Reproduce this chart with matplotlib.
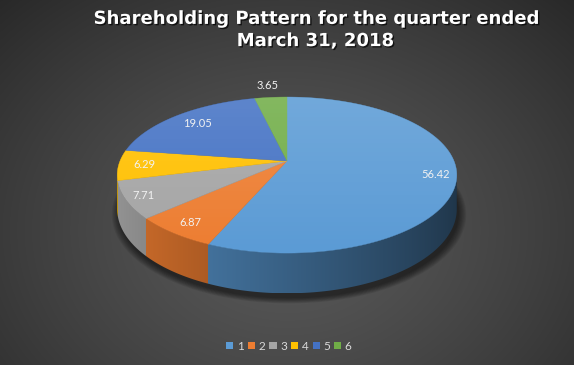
import numpy as np
import matplotlib.pyplot as plt
import matplotlib.patheffects as pe
from matplotlib.patches import Polygon, Patch
from matplotlib.colors import to_rgb

# données
labels = ['1', '2', '3', '4', '5', '6']
values = [56.42, 6.87, 7.71, 6.29, 19.05, 3.65]
colors = ['#5B9BD5', '#ED7D31', '#A5A5A5', '#FFC000', '#4472C4', '#70AD47']
title = 'Shareholding Pattern for the quarter ended\nMarch 31, 2018'

# géométrie du disque incliné (en pixels)
W, H = 574, 365
cx, cy = 287, 161
sx, sy = 167, 75.5
persp = 0.18
depth = 33
label_r = [0.88, 0.87, 0.9, 0.85, 0.8, 1.22]


def proj(theta, r=1.0):
    X = r * np.cos(theta)
    Z = -r * np.sin(theta)
    w = 1 - persp * Z
    return cx + sx * X / w, cy + sy * Z / w, w


fig = plt.figure(figsize=(W / 100, H / 100), dpi=100)
ax = fig.add_axes([0, 0, 1, 1])

# fond en dégradé radial
yy, xx = np.mgrid[0:H, 0:W]
d = np.sqrt(((xx - 287) / 330) ** 2 + ((yy - 230) / 260) ** 2) / 1.24
g = 0.35 - 0.19 * np.clip(d, 0, 1) ** 1.3
ax.imshow(np.dstack([g, g, g]), extent=(0, W, H, 0), zorder=0, aspect='auto')

# angles des parts (départ en haut, sens horaire)
total = sum(values)
bounds = np.radians(90 - np.concatenate([[0], np.cumsum(values)]) / total * 360)
cum = (np.pi / 2 - bounds[1:])


def slice_of(theta):
    rel = (np.pi / 2 - theta) % (2 * np.pi)
    return np.minimum(np.searchsorted(cum, rel), len(values) - 1)


# ombre sous le camembert
t = np.linspace(0, 2 * np.pi, 300)
for k in range(8):
    x, y, w = proj(t, 1.0 + 0.006 * k)
    ax.fill(x + 2, y + (depth + 4) / w, color='black', alpha=0.08, lw=0, zorder=1)

# paroi latérale : image colonne par colonne, découpée au contour de la paroi
a_sil = np.arcsin(persp)
tf = np.linspace(-np.pi + a_sil, -a_sil, 600)
xf, yf, wf = proj(tf)
wall = Polygon(np.vstack([np.column_stack([xf, yf]),
                          np.column_stack([xf, yf + depth / wf])[::-1]]),
               closed=True, facecolor='none', edgecolor='none')
ax.add_patch(wall)
cols = np.linspace(xf.min(), xf.max(), 800)
th = np.interp(cols, xf, tf)
idx = slice_of(th)
shade = np.clip(0.62 - 0.28 * np.cos(th), 0, 1)
rgb = np.array([to_rgb(c) for c in colors])[idx] * shade[:, None]
im_wall = ax.imshow(rgb[None, :, :], extent=(xf.min(), xf.max(), (yf + depth / wf).max(), yf.min()),
                    zorder=2, aspect='auto', interpolation='nearest')
im_wall.set_clip_path(wall)

# faces supérieures
for i in range(len(values)):
    arc = np.linspace(bounds[i], bounds[i + 1], 200)
    x, y, w = proj(arc)
    pts = np.vstack([[cx, cy], np.column_stack([x, y])])
    ax.add_patch(Polygon(pts, closed=True, facecolor=colors[i], edgecolor=colors[i], lw=0.3, zorder=3))

# léger dégradé sur le dessus
x, y, w = proj(t)
clip = Polygon(np.column_stack([x, y]), closed=True, facecolor='none', edgecolor='none')
ax.add_patch(clip)
grad = np.zeros((100, 1, 4))
grad[:, 0, :3] = 1
grad[:, 0, 3] = np.linspace(0.14, 0.0, 100)
im = ax.imshow(grad, extent=(x.min(), x.max(), y.max(), y.min()), zorder=4, aspect='auto')
im.set_clip_path(clip)

ax.set_xlim(0, W)
ax.set_ylim(H, 0)
ax.axis('off')

# étiquettes de valeurs
for i in range(len(values)):
    m = (bounds[i] + bounds[i + 1]) / 2
    lx, ly, _ = proj(m, label_r[i])
    ax.text(lx, ly, f'{values[i]:.2f}', ha='center', va='center', fontsize=8,
            family='Lato', color='#f2f2f2', zorder=5)

# titre
ax.text(315, 30, title, ha='center', va='center', fontsize=13, fontweight='bold',
        color='white', linespacing=1.3, zorder=5,
        path_effects=[pe.withSimplePatchShadow(offset=(1, -1), shadow_rgbFace='black', alpha=0.7)])

# légende
handles = [Patch(facecolor=c, edgecolor='none') for c in colors]
fig.legend(handles, labels, loc='center', bbox_to_anchor=(289 / W, 1 - 346 / H), ncol=6,
           frameon=False, handlelength=0.6, handleheight=0.6, handletextpad=0.3,
           columnspacing=0.35, prop={'family': 'Lato', 'size': 8.5}, labelcolor='#d9d9d9')

fig.savefig('out.png', dpi=100)
